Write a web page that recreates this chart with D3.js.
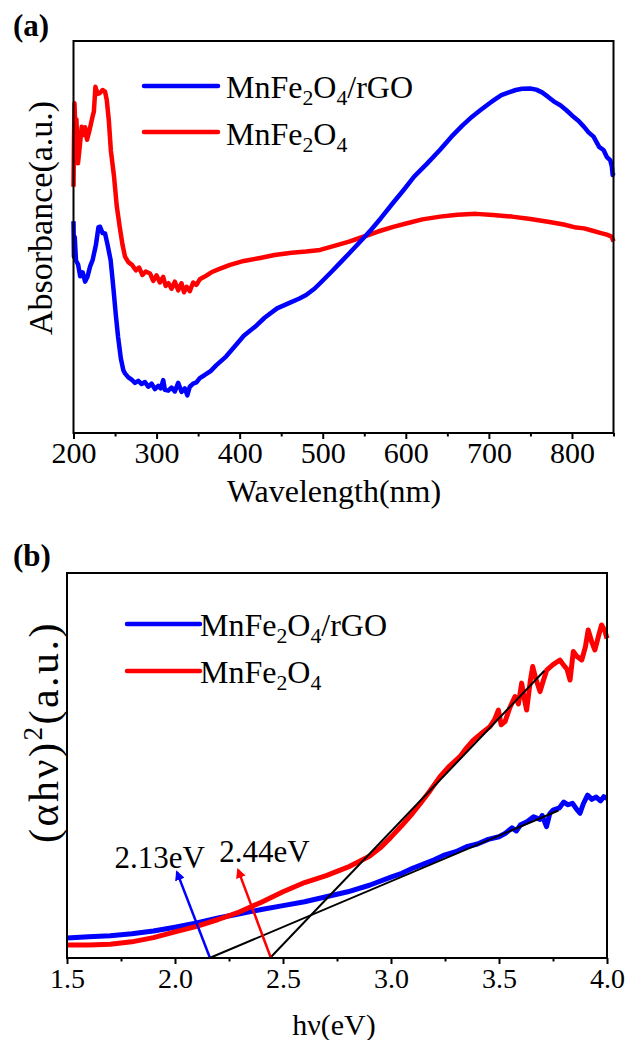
<!DOCTYPE html>
<html>
<head>
<meta charset="utf-8">
<script src="https://cdn.jsdelivr.net/npm/d3@7"></script>
<style>
  body { margin: 0; background: #fff; }
  text { font-family: "Liberation Serif", "Times New Roman", serif; fill: #000; }
</style>
</head>
<body>
<div id="chart"></div>
<script>
// ---- panel (a) UV-vis absorbance, wavelength nm vs arbitrary units
var absRgo = [[200,54],[200.5,45],[201.5,50],[203,44],[205.5,43],[208,40],[211,41],[214,38.6],[217,40],[220,42.5],[223,44.1],[227,48],[230,52.5],[232,52.6],[235,51],[238,50.9],[241,48],[244.7,44.1],[248,37],[251,30],[253.6,24.6],[257,19],[260,16],[262,15.2],[266,14.2],[270,13.6],[274,12.8],[278,13.3],[282,12.5],[286,13.0],[290,11.8],[294,12.6],[298,11.2],[302,12.0],[305,11.4],[308,13.5],[310,11.0],[314,10.8],[318,11.6],[322,10.6],[326,12.8],[330,10.5],[334,11.4],[337,9.6],[340,11.8],[344,12.6],[348,12.9],[352,14.0],[358,14.8],[365,15.8],[372,17.3],[383.6,19.5],[395,22.3],[405,24.8],[418.5,27.1],[430,29.4],[445,31.8],[460,33.2],[472,34.3],[480,35.2],[490,36.8],[496.8,38.2],[510,41.0],[520,43.2],[531.7,45.8],[545,48.8],[558,51.8],[570,54.8],[585,58.8],[597.4,62.0],[610,65.4],[625,68.6],[641,72.2],[655,75.6],[668,78.4],[679.8,80.7],[690,82.4],[700,84.0],[706,84.9],[715,86.2],[724,86.9],[732.4,87.5],[740,87.8],[749.6,87.9],[757,87.6],[764,86.9],[771,85.8],[778,84.6],[786,83.6],[793,82.4],[800,81.0],[808,79.6],[814.6,78.1],[820,76.7],[826,75.6],[832.7,73.0],[838,72.2],[842,70.4],[846,69.6],[848,68.0],[849,65.8],[850,66.4]];
var absMnfe = [[200,62.8],[200.6,75],[201.2,84.1],[202.5,76],[203.5,80],[205.4,68.8],[207,72],[209.9,78.1],[212,76],[214,78],[216.3,74.8],[219,77],[222.9,80.7],[224.5,82],[226.4,88.3],[229,86.5],[231.7,86.7],[235,87.5],[237.9,87.1],[240,85],[242.5,79.8],[245,72],[248.8,65.4],[252,58],[255.6,52.6],[259,48],[262,45.0],[266,43.6],[270.4,42.9],[275,41.5],[279,42.2],[283,40.3],[287,41.2],[292.1,40.7],[296,38.8],[300,40.2],[304,38.4],[308,39.8],[311,37.5],[314.4,38.2],[318,36.8],[322,38.6],[326,36.4],[330,38.2],[333,35.9],[336.2,37.3],[340,36.2],[344,38.4],[348,37.8],[352,39.2],[358,39.9],[366,41.0],[375,41.8],[388.4,42.9],[405,43.9],[423.3,44.6],[442,45.4],[462.5,46.0],[480,46.3],[496.8,46.7],[515,47.8],[531.7,48.8],[548,50.0],[566.6,51.4],[585,52.6],[601.5,53.5],[620,54.5],[641.2,55.2],[662,55.7],[684.6,55.9],[705,55.6],[727.9,55.2],[750,54.6],[771.2,53.9],[790,53.2],[805,52.4],[814.6,52.2],[825,51.6],[835,51.0],[842,50.6],[847.7,50.1],[850,48.9]];
var wlTicks = [200, 300, 400, 500, 600, 700, 800];
var wlMinor = [250, 350, 450, 550, 650, 750, 850];

// ---- panel (b) Tauc plot, eV vs arbitrary units
var taucRgo = [[1.5,5.2],[1.6,5.5],[1.7,5.8],[1.8,6.3],[1.9,7.0],[2.0,8.0],[2.1,9.1],[2.2,10.4],[2.3,11.5],[2.4,12.6],[2.5,13.6],[2.6,14.6],[2.7,15.9],[2.8,17.2],[2.9,18.9],[3.0,21.0],[3.05,22.0],[3.1,23.3],[3.15,24.4],[3.2,25.5],[3.25,26.8],[3.3,27.6],[3.35,28.9],[3.4,29.6],[3.45,30.8],[3.5,31.5],[3.53,32.4],[3.56,33.8],[3.58,33.0],[3.6,34.6],[3.63,35.4],[3.66,36.7],[3.69,36.0],[3.7,37.0],[3.72,34.1],[3.735,37.5],[3.75,38.4],[3.78,39.0],[3.8,40.5],[3.82,39.8],[3.84,40.2],[3.86,38.6],[3.875,37.6],[3.89,40.0],[3.91,42.3],[3.93,41.2],[3.95,41.8],[3.97,40.8],[3.985,41.9],[4.0,41.5]];
var taucMnfe = [[1.5,3.4],[1.6,3.4],[1.7,3.6],[1.8,4.2],[1.9,5.3],[2.0,6.8],[2.1,8.2],[2.2,10.0],[2.3,12.0],[2.4,14.5],[2.5,17.2],[2.6,19.6],[2.7,21.4],[2.8,23.6],[2.9,26.4],[2.95,28.6],[3.0,31.4],[3.05,34.4],[3.1,37.6],[3.134,40.0],[3.18,43.4],[3.227,47.1],[3.27,49.8],[3.319,52.3],[3.35,54.6],[3.381,56.6],[3.42,58.4],[3.458,60.1],[3.48,62.0],[3.497,64.4],[3.51,60.6],[3.528,61.4],[3.55,65.0],[3.574,67.9],[3.59,66.0],[3.605,71.4],[3.615,68.0],[3.628,64.4],[3.645,72.0],[3.656,75.7],[3.67,72.6],[3.69,69.2],[3.705,72.0],[3.721,74.8],[3.75,76.2],[3.782,77.4],[3.80,76.0],[3.815,75.0],[3.829,72.2],[3.844,79.6],[3.86,78.4],[3.883,77.4],[3.9,80.8],[3.913,85.2],[3.93,82.0],[3.944,80.0],[3.96,83.5],[3.975,86.5],[3.99,85.0],[4.0,83.0]];
var tangentRgo = [[2.16,0],[3.775,38.3]];
var tangentMnfe = [[2.44,0],[3.71,74.6]];
var gapLabels = ["2.13eV", "2.44eV"];
var gapArrows = [[[2.162,0],[2.009,22.3]], [[2.444,0],[2.292,22.9]]];
var gapTextPos = [[1.72,23.4], [2.205,24.9]];
var evTicks = [1.5, 2.0, 2.5, 3.0, 3.5, 4.0];
var evMinor = [1.75, 2.25, 2.75, 3.25, 3.75];

var blue = "#0000ff", red = "#ff0000";

var svg = d3.select("#chart").append("svg")
    .attr("width", 627).attr("height", 1040)
    .style("display", "block").style("background", "#fff");

var defs = svg.append("defs");
[["arrBlue", blue], ["arrRed", red]].forEach(function(m) {
    defs.append("marker")
        .attr("id", m[0]).attr("viewBox", "0 0 10 10")
        .attr("refX", 8).attr("refY", 5)
        .attr("markerWidth", 4).attr("markerHeight", 4)
        .attr("markerUnits", "strokeWidth")
        .attr("orient", "auto")
      .append("path").attr("d", "M0,0 L10,5 L0,10 z").attr("fill", m[1]);
});

// subscript helper for MnFe2O4 style labels
function chem(sel, parts, size) {
    parts.forEach(function(p) {
        var t = sel.append("tspan").text(p[0]);
        if (p[1] === "sub") t.attr("font-size", size * 0.68).attr("dy", 7);
        else if (p[1] === "back") t.attr("dy", -7);
    });
}
var rgoParts = [["MnFe"], ["2", "sub"], ["O", "back"], ["4", "sub"], ["/rGO", "back"]];
var mnfeParts = [["MnFe"], ["2", "sub"], ["O", "back"], ["4", "sub"]];

// ================= panel (a)
var xa = d3.scaleLinear().domain([200, 850]).range([73.5, 613.5]);
var ya = d3.scaleLinear().domain([0, 100]).range([433, 41]);
var ga = svg.append("g");

var lineA = d3.line().x(function(d){ return xa(d[0]); }).y(function(d){ return ya(d[1]); });
ga.append("path").datum(absMnfe).attr("d", lineA)
    .attr("fill", "none").attr("stroke", red).attr("stroke-width", 4.5).attr("stroke-linejoin", "round");
ga.append("path").datum(absRgo).attr("d", lineA)
    .attr("fill", "none").attr("stroke", blue).attr("stroke-width", 4.5).attr("stroke-linejoin", "round");

ga.append("g").attr("transform", "translate(0,433)")
    .call(d3.axisBottom(xa).tickValues(wlTicks).tickSize(6).tickPadding(3).tickFormat(d3.format("d")))
    .call(function(g){ g.select(".domain").remove(); })
    .call(function(g){ g.selectAll("line").attr("stroke-width", 2); })
    .call(function(g){ g.selectAll("text").attr("font-size", 30).attr("font-family", "Liberation Serif"); });
ga.append("g").attr("transform", "translate(0,433)")
    .call(d3.axisBottom(xa).tickValues(wlMinor).tickSize(3.5).tickFormat(""))
    .call(function(g){ g.select(".domain").remove(); })
    .call(function(g){ g.selectAll("line").attr("stroke-width", 2); });

ga.append("rect").attr("x", 73.5).attr("y", 41).attr("width", 540).attr("height", 392)
    .attr("fill", "none").attr("stroke", "#000").attr("stroke-width", 2);

ga.append("text").attr("x", 13).attr("y", 36).attr("font-size", 31).attr("font-weight", "bold").text("(a)");
ga.append("text").attr("x", 334).attr("y", 502).attr("text-anchor", "middle").attr("font-size", 32).text("Wavelength(nm)");
ga.append("text").attr("transform", "translate(52,335) rotate(-90)").attr("font-size", 34).text("Absorbance(a.u.)");

// legend (a)
ga.append("line").attr("x1", 144).attr("x2", 218).attr("y1", 86).attr("y2", 86)
    .attr("stroke", blue).attr("stroke-width", 4.5).attr("stroke-linecap", "round");
ga.append("line").attr("x1", 144).attr("x2", 218).attr("y1", 132).attr("y2", 132)
    .attr("stroke", red).attr("stroke-width", 4.5).attr("stroke-linecap", "round");
chem(ga.append("text").attr("x", 226).attr("y", 98).attr("font-size", 32), rgoParts, 32);
chem(ga.append("text").attr("x", 226).attr("y", 145).attr("font-size", 32), mnfeParts, 32);

// ================= panel (b)
var xb = d3.scaleLinear().domain([1.5, 4.0]).range([67, 607]);
var yb = d3.scaleLinear().domain([0, 100]).range([958, 573]);
var gb = svg.append("g");
var lineB = d3.line().x(function(d){ return xb(d[0]); }).y(function(d){ return yb(d[1]); });

gb.append("path").datum(taucRgo).attr("d", lineB)
    .attr("fill", "none").attr("stroke", blue).attr("stroke-width", 5).attr("stroke-linejoin", "round");
gb.append("path").datum(taucMnfe).attr("d", lineB)
    .attr("fill", "none").attr("stroke", red).attr("stroke-width", 5).attr("stroke-linejoin", "round");
[tangentRgo, tangentMnfe].forEach(function(t) {
    gb.append("path").datum(t).attr("d", lineB)
        .attr("fill", "none").attr("stroke", "#000").attr("stroke-width", 2);
});
gapArrows.forEach(function(a, i) {
    gb.append("path").datum(a).attr("d", lineB)
        .attr("fill", "none").attr("stroke", i === 0 ? blue : red).attr("stroke-width", 2.5)
        .attr("marker-end", i === 0 ? "url(#arrBlue)" : "url(#arrRed)");
    gb.append("text").attr("x", xb(gapTextPos[i][0])).attr("y", yb(gapTextPos[i][1]))
        .attr("font-size", 31).text(gapLabels[i]);
});

gb.append("g").attr("transform", "translate(0,958)")
    .call(d3.axisBottom(xb).tickValues(evTicks).tickSize(6).tickPadding(4).tickFormat(d3.format(".1f")))
    .call(function(g){ g.select(".domain").remove(); })
    .call(function(g){ g.selectAll("line").attr("stroke-width", 2); })
    .call(function(g){ g.selectAll("text").attr("font-size", 28).attr("font-family", "Liberation Serif"); });
gb.append("g").attr("transform", "translate(0,958)")
    .call(d3.axisBottom(xb).tickValues(evMinor).tickSize(3.5).tickFormat(""))
    .call(function(g){ g.select(".domain").remove(); })
    .call(function(g){ g.selectAll("line").attr("stroke-width", 2); });

gb.append("rect").attr("x", 67).attr("y", 573).attr("width", 540).attr("height", 385)
    .attr("fill", "none").attr("stroke", "#000").attr("stroke-width", 2);

gb.append("text").attr("x", 13).attr("y", 566).attr("font-size", 31).attr("font-weight", "bold").text("(b)");
gb.append("text").attr("x", 334).attr("y", 1035).attr("text-anchor", "middle").attr("font-size", 30).text("hν(eV)");
var yl = gb.append("text").attr("transform", "translate(58,843) rotate(-90)")
    .attr("font-size", 42).attr("letter-spacing", 2.5);
yl.append("tspan").text("(αhν)");
yl.append("tspan").attr("font-size", 27).attr("dy", -16).text("2");
yl.append("tspan").attr("dy", 16).text("(a.u.)");

// legend (b)
gb.append("line").attr("x1", 127).attr("x2", 200).attr("y1", 624).attr("y2", 624)
    .attr("stroke", blue).attr("stroke-width", 4.5).attr("stroke-linecap", "round");
gb.append("line").attr("x1", 127).attr("x2", 200).attr("y1", 671).attr("y2", 671)
    .attr("stroke", red).attr("stroke-width", 4.5).attr("stroke-linecap", "round");
chem(gb.append("text").attr("x", 200).attr("y", 636).attr("font-size", 32), rgoParts, 32);
chem(gb.append("text").attr("x", 200).attr("y", 683).attr("font-size", 32), mnfeParts, 32);
</script>
</body>
</html>
